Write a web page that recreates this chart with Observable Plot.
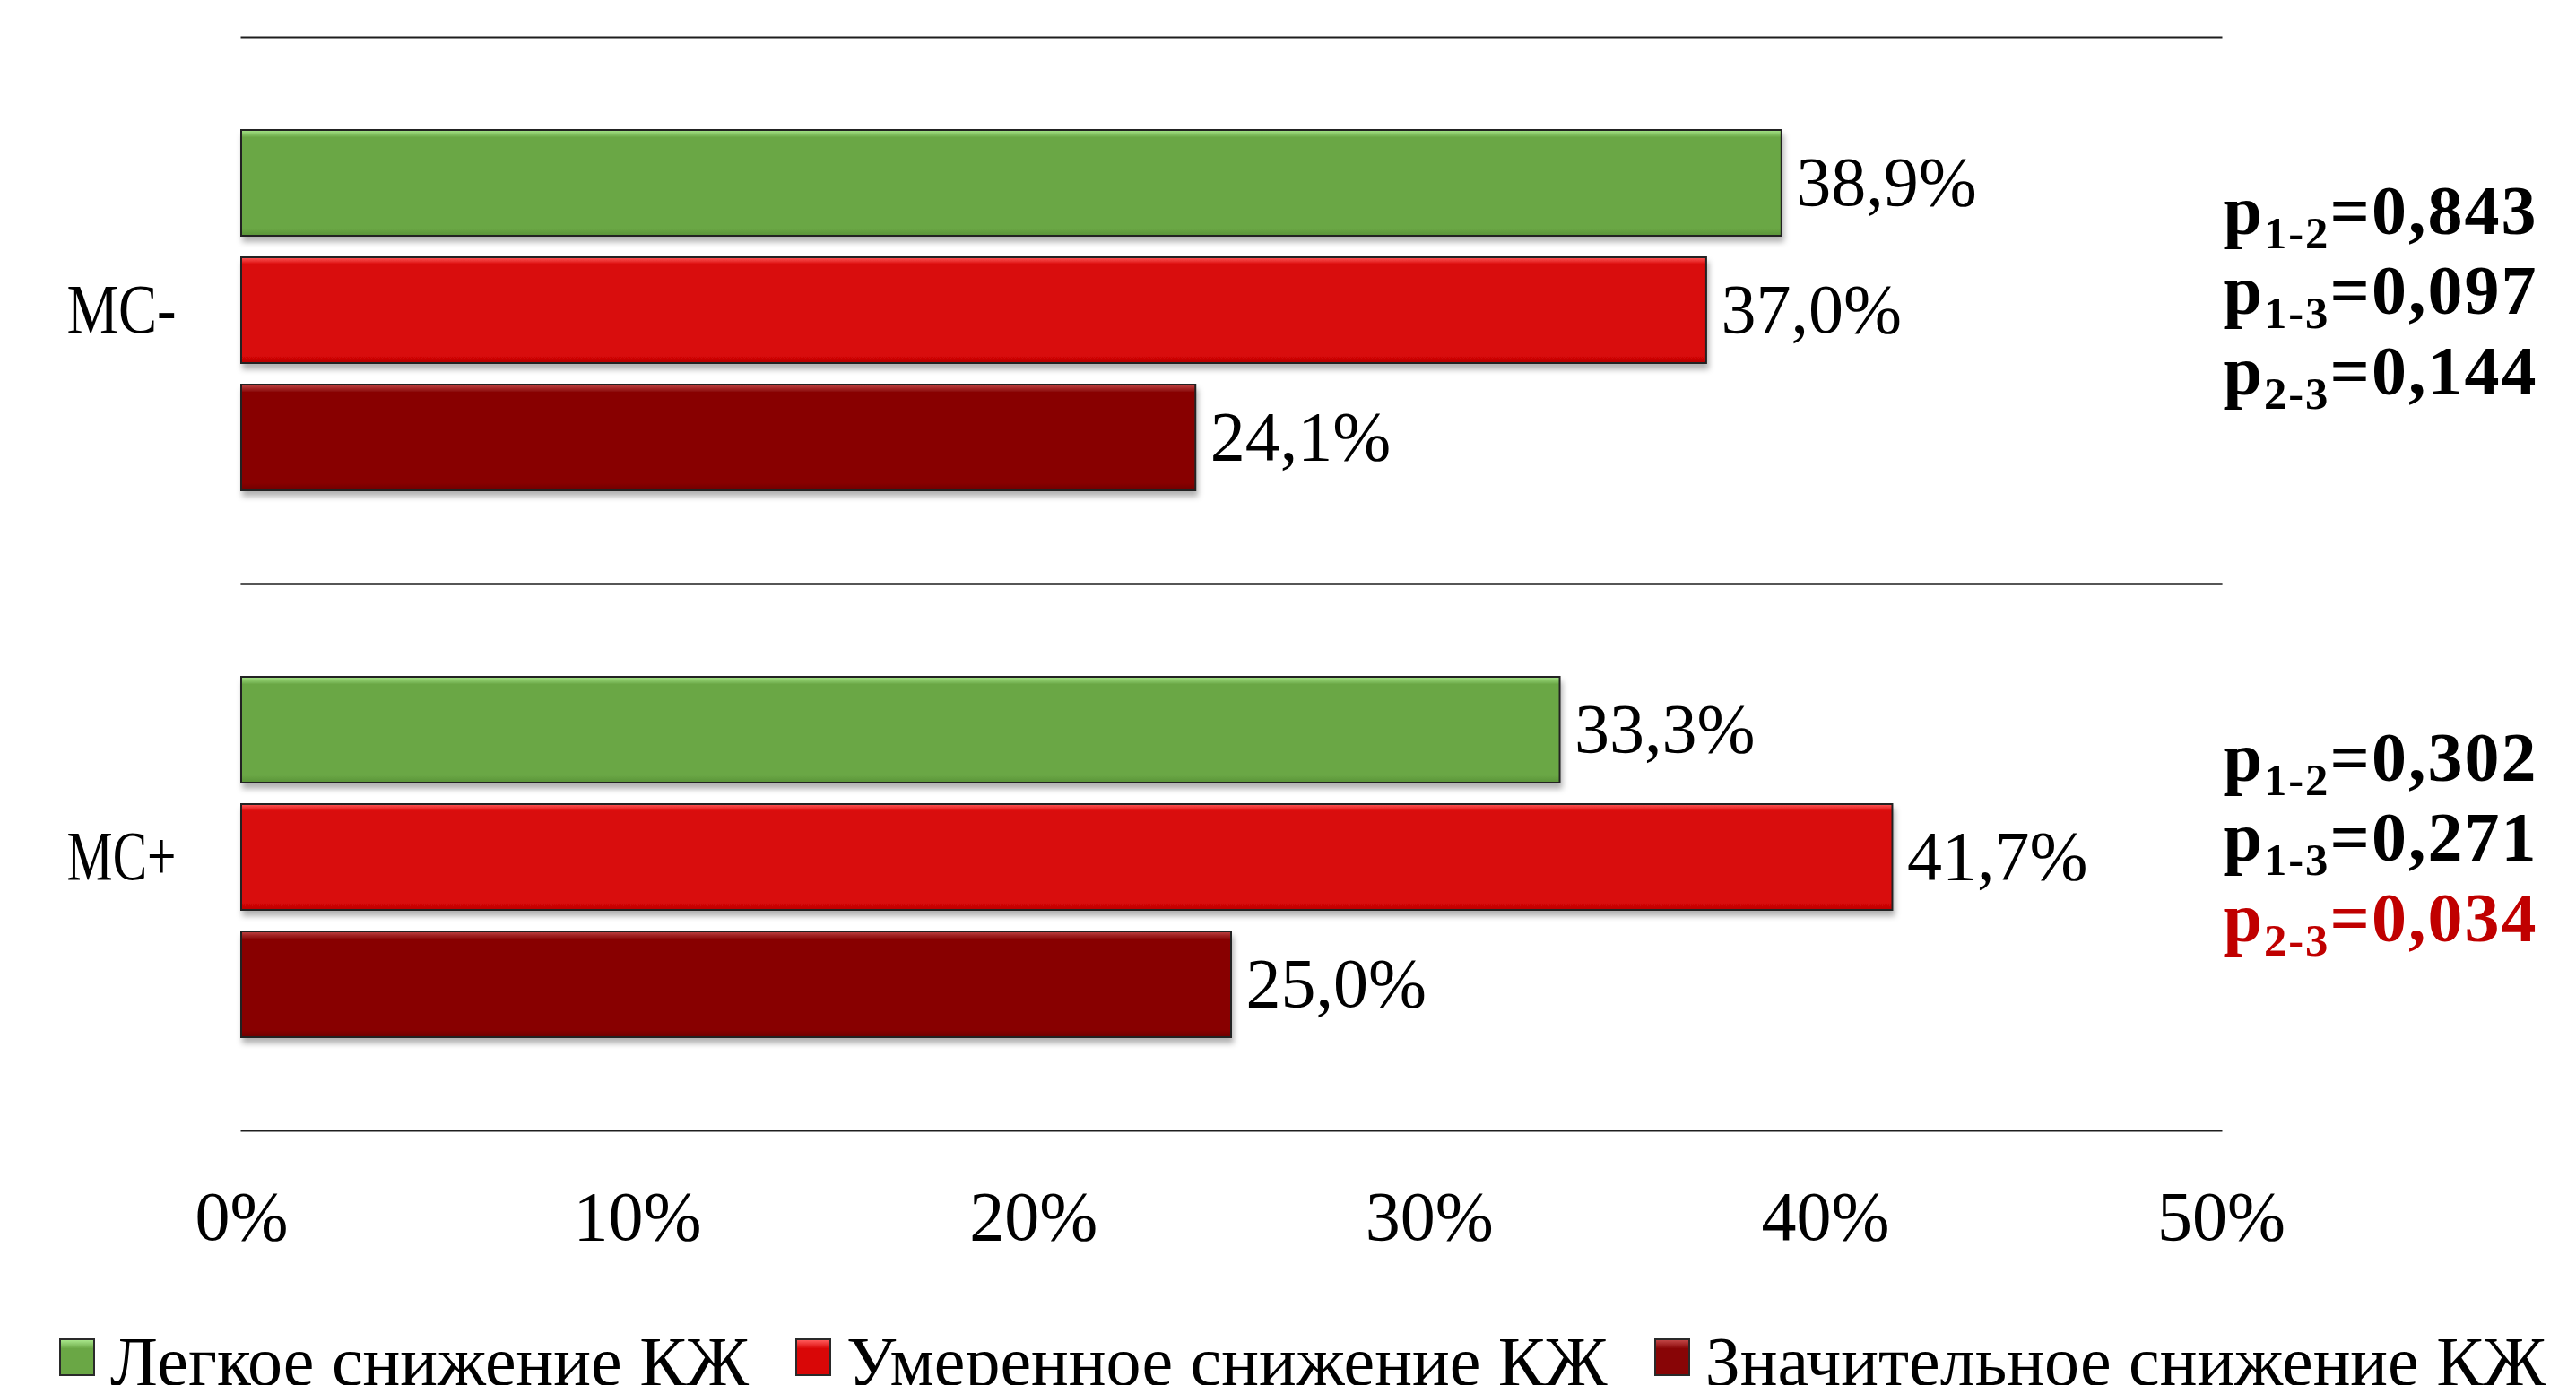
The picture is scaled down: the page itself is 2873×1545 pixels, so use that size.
<!DOCTYPE html>
<html><head><meta charset="utf-8">
<script src="https://cdn.jsdelivr.net/npm/d3@7"></script>
<script src="https://cdn.jsdelivr.net/npm/@observablehq/plot@0.6"></script>
<style>
html,body{margin:0;padding:0;background:#fff;overflow:hidden;width:2873px;height:1545px;}
#chart{position:absolute;left:0;top:0;}
#legend{position:absolute;left:0;top:1480px;width:2873px;height:65px;overflow:hidden;white-space:nowrap;font-family:"Liberation Serif",serif;font-size:78px;line-height:78px;padding-left:66px;box-sizing:border-box;color:#000}
.item{display:inline-block;margin-right:52px}
.sw{display:inline-block;width:40px;height:42px;box-sizing:border-box;border:2px solid #2a2a2a;vertical-align:baseline;margin-bottom:10px;margin-right:17px}
</style></head><body>
<div id="chart"></div>
<div id="legend"></div>
<script>
const groups = ["МС-", "МС+"];
const series = ["Легкое снижение КЖ", "Умеренное снижение КЖ", "Значительное снижение КЖ"];
const valuesMinus = [38.9, 37.0, 24.1];
const valuesPlus = [33.3, 41.7, 25.0];
const pairs = ["1-2", "1-3", "2-3"];
const pMinus = [0.843, 0.097, 0.144];
const pPlus = [0.302, 0.271, 0.034];
const xTicks = [0, 10, 20, 30, 40, 50];
const colors = ["#6aa745", "#d90707", "#880506"];
const highlights = ["#a8e68a", "#ff5a5a", "#c04545"];
const darker = ["#5a9338", "#b80505", "#6e0303"];

const rows = [];
groups.forEach((g, gi) => series.forEach((s, si) =>
  rows.push({group: g, series: s, value: (gi ? valuesPlus : valuesMinus)[si]})));
const fmt = v => v.toFixed(1).replace(".", ",") + "%";
const pfmt = p => p.toFixed(3).replace(".", ",");
const pRows = groups.map((g, gi) => ({
  group: g,
  text: pairs.map((pr, i) => `p${pr}=${pfmt((gi ? pPlus : pMinus)[i])}`).join("\n")
}));
const gradIds = colors.map((c, i) => `grad${i}`);

const plot = Plot.plot({
  width: 2873, height: 1480,
  marginLeft: 269, marginRight: 396, marginTop: 40, marginBottom: 219,
  style: {fontFamily: "Liberation Serif, serif", fontSize: "78px", color: "#000", background: "#fff"},
  x: {domain: [0, 50], ticks: xTicks, tickFormat: d => d + "%", tickSize: 0, tickPadding: 66, label: null},
  y: {domain: series, axis: null, paddingInner: 0.168, paddingOuter: 0.717},
  fy: {domain: groups, padding: 0, axis: "left", tickSize: 0, tickPadding: 73, label: null},
  color: {domain: series, range: gradIds.map(id => `url(#${id})`)},
  marks: [
    Plot.frame({anchor: "top", stroke: "#1e1e1e", strokeWidth: 2}),
    Plot.frame({anchor: "bottom", stroke: "#1e1e1e", strokeWidth: 2}),
    Plot.barX(rows, {x: "value", y: "series", fy: "group", fill: "series", stroke: "#222", strokeWidth: 2}),
    Plot.text(rows, {x: "value", y: "series", fy: "group", text: d => fmt(d.value), textAnchor: "start", dx: 16, fontSize: 78, fill: "#000"}),
    Plot.text(pRows, {fy: "group", text: "text", frameAnchor: "right", textAnchor: "start", dx: 2, dy: -25, lineHeight: 1.15, fontSize: 78, fontWeight: "bold", fill: "#000"})
  ]
});
document.getElementById("chart").appendChild(plot);

const svg = d3.select(plot);
const defs = svg.insert("defs", ":first-child");
colors.forEach((c, i) => {
  const g = defs.append("linearGradient").attr("id", gradIds[i]).attr("x1", 0).attr("y1", 0).attr("x2", 0).attr("y2", 1);
  g.append("stop").attr("offset", "0").attr("stop-color", highlights[i]);
  g.append("stop").attr("offset", "0.07").attr("stop-color", c);
  g.append("stop").attr("offset", "0.93").attr("stop-color", c);
  g.append("stop").attr("offset", "1").attr("stop-color", darker[i]);
});
const f = defs.append("filter").attr("id", "shadow").attr("x", "-5%").attr("y", "-10%").attr("width", "115%").attr("height", "135%");
f.append("feDropShadow").attr("dx", 2).attr("dy", 6).attr("stdDeviation", 3).attr("flood-color", "#000").attr("flood-opacity", 0.3);
svg.selectAll('g[aria-label="bar"]').attr("filter", "url(#shadow)");

// facet labels: narrower glyphs like the reference
svg.selectAll('g[aria-label="fy-axis tick label"] text')
  .attr("font-size", 78).attr("textLength", 122).attr("lengthAdjust", "spacingAndGlyphs");

svg.selectAll("tspan").each(function () {
  const m = /^p(\d-\d)=(.+)$/.exec(this.textContent);
  if (!m) return;
  const sel = d3.select(this);
  sel.text(null);
  sel.append("tspan").text("p");
  sel.append("tspan").attr("font-size", "0.65em").attr("dy", 16).text(m[1]);
  sel.append("tspan").attr("dy", -16).text("=" + m[2]);
  if (parseFloat(m[2].replace(",", ".")) < 0.05) sel.attr("fill", "#c00000");
  d3.select(this.parentNode).attr("letter-spacing", "2px");
});

const legend = d3.select("#legend");
series.forEach((s, i) => {
  const item = legend.append("span").attr("class", "item");
  item.append("span").attr("class", "sw")
    .style("background", `linear-gradient(to bottom, ${highlights[i]} 0%, ${colors[i]} 25%, ${colors[i]} 100%)`);
  item.append("span").text(s);
});
</script>
</body></html>
